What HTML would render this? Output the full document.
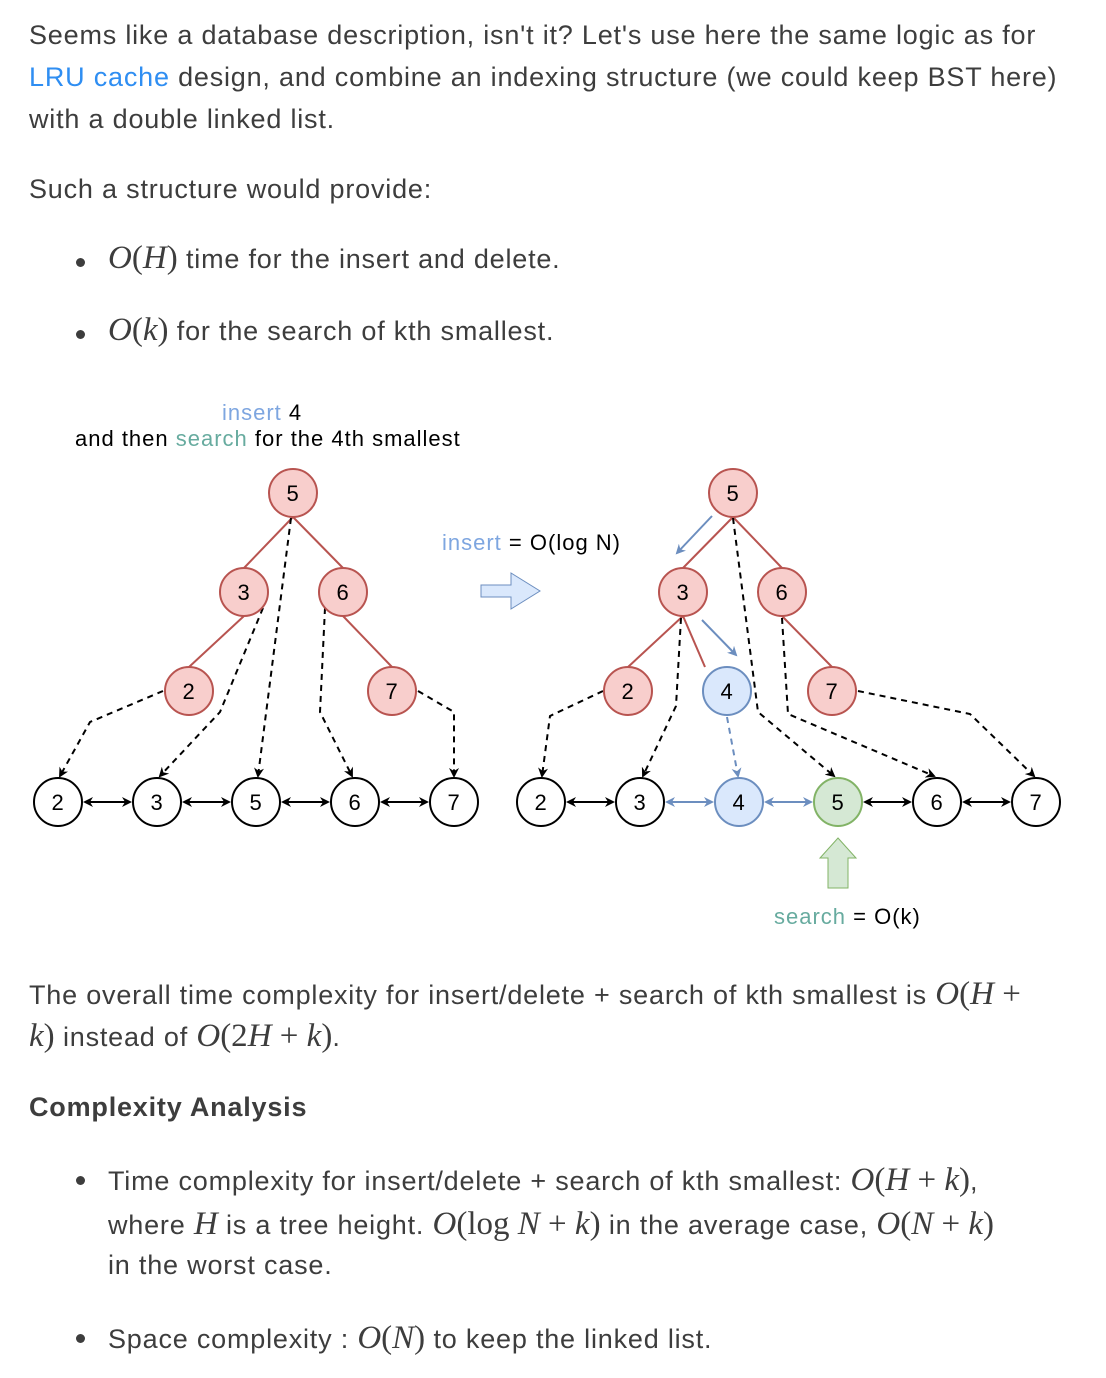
<!DOCTYPE html>
<html><head><meta charset="utf-8"><style>
body{margin:0;width:1106px;height:1378px;background:#fff;font-family:"Liberation Sans",sans-serif;color:#3d3d3d;font-size:27px;letter-spacing:0.8px;position:relative;overflow:hidden}
.t{position:absolute;left:29px;white-space:nowrap}
.m{font-family:"Liberation Serif",serif;font-size:33px;letter-spacing:0}
.i{font-style:italic}
.dot{position:absolute;left:76px;width:9px;height:9px;border-radius:50%;background:#3d3d3d}
a{color:#2f8ef2;text-decoration:none}
</style></head><body>
<div class="t" style="top:20px">Seems like a database description, isn't it? Let's use here the same logic as for</div>
<div class="t" style="top:62px"><a>LRU cache</a> design, and combine an indexing structure (we could keep BST here)</div>
<div class="t" style="top:104px">with a double linked list.</div>
<div class="t" style="top:174px">Such a structure would provide:</div>
<div class="dot" style="top:258px"></div>
<div class="t" style="left:108px;top:240px"><span class="m"><span class="i">O</span>(<span class="i">H</span>)</span> time for the insert and delete.</div>
<div class="dot" style="top:330px"></div>
<div class="t" style="left:108px;top:312px"><span class="m"><span class="i">O</span>(<span class="i">k</span>)</span> for the search of kth smallest.</div>

<svg style="position:absolute;left:0;top:390px" width="1106" height="560" viewBox="0 390 1106 560" font-family="Liberation Sans,sans-serif" font-size="22">
<defs>
<marker id="a" markerWidth="10" markerHeight="10" refX="8" refY="5" orient="auto" markerUnits="userSpaceOnUse"><path d="M0,0 L10,5 L0,10 L3,5z" fill="#000"/></marker>
<marker id="b" markerWidth="10" markerHeight="10" refX="8" refY="5" orient="auto-start-reverse" markerUnits="userSpaceOnUse"><path d="M0,0 L10,5 L0,10 L3,5z" fill="#000"/></marker>
<marker id="c" markerWidth="10" markerHeight="10" refX="8" refY="5" orient="auto-start-reverse" markerUnits="userSpaceOnUse"><path d="M0,0 L10,5 L0,10 L3,5z" fill="#6c8ebf"/></marker>
</defs>
<g letter-spacing="1">
<text x="222" y="420" fill="#7ea6e0">insert <tspan fill="#000">4</tspan></text>
<text x="75" y="446" fill="#000">and then <tspan fill="#67ab9f">search</tspan> for the 4th smallest</text>
<text x="442" y="550" fill="#7ea6e0">insert <tspan fill="#000">= O(log N)</tspan></text>
<text x="774" y="924" fill="#67ab9f">search <tspan fill="#000">= O(k)</tspan></text>
</g>
<path d="M481,585 h30 v-12 l29,18 l-29,18 v-12 h-30z" fill="#dae8fc" stroke="#6c8ebf"/>
<path d="M838,838 l18,20 h-8 v30 h-20 v-30 h-8z" fill="#d5e8d4" stroke="#82b366"/>
<g stroke="#b85450" stroke-width="2">
<line x1="293" y1="517" x2="244" y2="568"/><line x1="293" y1="517" x2="343" y2="568"/><line x1="244" y1="616" x2="189" y2="667"/><line x1="343" y1="616" x2="392" y2="667"/>
<line x1="733" y1="517" x2="683" y2="568"/><line x1="733" y1="517" x2="782" y2="568"/><line x1="683" y1="616" x2="628" y2="667"/><line x1="683" y1="616" x2="705" y2="667"/><line x1="782" y1="616" x2="832" y2="667"/>
</g>
<g stroke="#000" stroke-width="2" fill="none" stroke-dasharray="6,5" marker-end="url(#a)">
<path d="M163,691 L90,722 L60,776"/>
<path d="M263,608 L220,712 L160,776"/>
<path d="M291,518 L258,776"/>
<path d="M325,608 L320,712 L352,776"/>
<path d="M418,691 L454,712 L454,776"/>
<path d="M603,691 L550,716 L542,776"/>
<path d="M681,618 L676,706 L643,776"/>
<path d="M733,518 L758,712 L834,776"/>
<path d="M782,618 L788,714 L934,776"/>
<path d="M858,691 L970,714 L1034,776"/>
</g>
<path d="M727,717 L738,776" stroke="#6c8ebf" stroke-width="2" fill="none" stroke-dasharray="6,5" marker-end="url(#c)"/>
<line x1="712" y1="516" x2="677" y2="553" stroke="#6c8ebf" stroke-width="2" marker-end="url(#c)"/>
<line x1="702" y1="620" x2="736" y2="655" stroke="#6c8ebf" stroke-width="2" marker-end="url(#c)"/>
<g stroke="#000" stroke-width="2" marker-start="url(#b)" marker-end="url(#b)">
<line x1="85" y1="802" x2="130" y2="802"/><line x1="184" y1="802" x2="229" y2="802"/><line x1="283" y1="802" x2="328" y2="802"/><line x1="382" y1="802" x2="427" y2="802"/>
<line x1="568" y1="802" x2="613" y2="802"/><line x1="865" y1="802" x2="910" y2="802"/><line x1="964" y1="802" x2="1009" y2="802"/>
</g>
<g stroke="#6c8ebf" stroke-width="2" marker-start="url(#c)" marker-end="url(#c)">
<line x1="667" y1="802" x2="712" y2="802"/><line x1="766" y1="802" x2="811" y2="802"/>
</g>
<g stroke-width="2" text-anchor="middle">
<g fill="#f8cecc" stroke="#b85450">
<circle cx="293" cy="493" r="24"/><circle cx="244" cy="592" r="24"/><circle cx="343" cy="592" r="24"/><circle cx="189" cy="691" r="24"/><circle cx="392" cy="691" r="24"/>
<circle cx="733" cy="493" r="24"/><circle cx="683" cy="592" r="24"/><circle cx="782" cy="592" r="24"/><circle cx="628" cy="691" r="24"/><circle cx="832" cy="691" r="24"/>
</g>
<g fill="#fff" stroke="#000">
<circle cx="58" cy="802" r="24"/><circle cx="157" cy="802" r="24"/><circle cx="256" cy="802" r="24"/><circle cx="355" cy="802" r="24"/><circle cx="454" cy="802" r="24"/>
<circle cx="541" cy="802" r="24"/><circle cx="640" cy="802" r="24"/><circle cx="937" cy="802" r="24"/><circle cx="1036" cy="802" r="24"/>
</g>
<circle cx="727" cy="691" r="24" fill="#dae8fc" stroke="#6c8ebf"/>
<circle cx="739" cy="802" r="24" fill="#dae8fc" stroke="#6c8ebf"/>
<circle cx="838" cy="802" r="24" fill="#d5e8d4" stroke="#82b366"/>
<g fill="#000" stroke="none">
<text x="293" y="501">5</text><text x="244" y="600">3</text><text x="343" y="600">6</text><text x="189" y="699">2</text><text x="392" y="699">7</text>
<text x="733" y="501">5</text><text x="683" y="600">3</text><text x="782" y="600">6</text><text x="628" y="699">2</text><text x="727" y="699">4</text><text x="832" y="699">7</text>
<text x="58" y="810">2</text><text x="157" y="810">3</text><text x="256" y="810">5</text><text x="355" y="810">6</text><text x="454" y="810">7</text>
<text x="541" y="810">2</text><text x="640" y="810">3</text><text x="739" y="810">4</text><text x="838" y="810">5</text><text x="937" y="810">6</text><text x="1036" y="810">7</text>
</g>
</g>
</svg>

<div class="t" style="top:976px">The overall time complexity for insert/delete + search of kth smallest is <span class="m"><span class="i">O</span>(<span class="i">H</span> +</span></div>
<div class="t" style="top:1018px"><span class="m i">k</span><span class="m">)</span> instead of <span class="m"><span class="i">O</span>(2<span class="i">H</span> + <span class="i">k</span>)</span>.</div>
<div class="t" style="top:1092px;font-weight:bold">Complexity Analysis</div>
<div class="dot" style="top:1176px"></div>
<div class="t" style="left:108px;top:1162px">Time complexity for insert/delete + search of kth smallest: <span class="m"><span class="i">O</span>(<span class="i">H</span> + <span class="i">k</span>)</span>,</div>
<div class="t" style="left:108px;top:1206px">where <span class="m i">H</span> is a tree height. <span class="m"><span class="i">O</span>(log <span class="i">N</span> + <span class="i">k</span>)</span> in the average case, <span class="m"><span class="i">O</span>(<span class="i">N</span> + <span class="i">k</span>)</span></div>
<div class="t" style="left:108px;top:1250px">in the worst case.</div>
<div class="dot" style="top:1334px"></div>
<div class="t" style="left:108px;top:1320px">Space complexity : <span class="m"><span class="i">O</span>(<span class="i">N</span>)</span> to keep the linked list.</div>
</body></html>
